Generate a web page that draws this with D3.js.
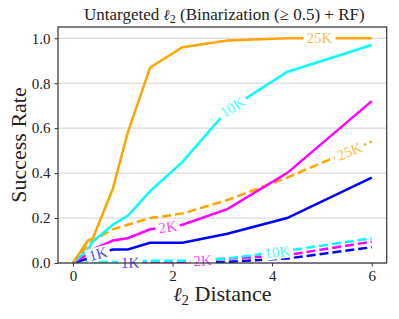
<!DOCTYPE html>
<meta charset="utf-8" />
<style>
    body { margin: 0; background: #fff; }
    text { font-family: "DejaVu Serif", "Liberation Serif", serif; fill: #222; }
</style>
<body></body>
<script src="https://d3js.org/d3.v7.min.js"></script>
<script>

    // l2 distance at each measured point
    var dist = [0, 0.3, 0.4, 0.8, 1.1, 1.55, 2.2, 3.1, 4.3, 6.0];

    // success rate per query budget (solid = one attack, dashed = the other)
    var solid25K  = [0, 0.10, 0.11, 0.33, 0.58, 0.87, 0.96, 0.99, 1.0, 1.0];
    var solid10K  = [0, 0.06, 0.095, 0.17, 0.21, 0.32, 0.45, 0.68, 0.85, 0.97];
    var solid2K   = [0, 0.04, 0.06, 0.10, 0.11, 0.15, 0.17, 0.24, 0.40, 0.72];
    var solid1K   = [0, 0.02, 0.035, 0.06, 0.06, 0.09, 0.09, 0.13, 0.20, 0.38];
    var dashed25K = [0, 0.08, 0.10, 0.15, 0.17, 0.20, 0.22, 0.28, 0.38, 0.54];
    var dashed10K = [0, 0.005, 0.005, 0.005, 0.005, 0.01, 0.01, 0.02, 0.055, 0.11];
    var dashed2K  = [0, 0.003, 0.003, 0.003, 0.003, 0.005, 0.005, 0.02, 0.035, 0.095];
    var dashed1K  = [0, 0.002, 0.002, 0.002, 0.002, 0.003, 0.003, 0.005, 0.02, 0.07];

    var xTicks = [0, 2, 4, 6];
    var yTicks = [0, 0.2, 0.4, 0.6, 0.8, 1.0];

    var series = [
        {name: "25K", vals: solid25K,  color: "#ffa500", dash: null, labelAt: 4.95},
        {name: "10K", vals: solid10K,  color: "#00ffff", dash: null, labelAt: 3.2},
        {name: "2K",  vals: solid2K,   color: "#ff00ff", dash: null, labelAt: 1.9},
        {name: "1K",  vals: solid1K,   color: "#0000ff", dash: null, labelAt: 0.5},
        {name: "25K", vals: dashed25K, color: "#ffa500", dash: "9,4", labelAt: 5.55},
        {name: "10K", vals: dashed10K, color: "#00ffff", dash: "9,4", labelAt: 4.1},
        {name: "2K",  vals: dashed2K,  color: "#ff00ff", dash: "9,4", labelAt: 2.6},
        {name: "1K",  vals: dashed1K,  color: "#0000ff", dash: "9,4", labelAt: 1.15}
    ];

    var svgWidth = 399, svgHeight = 319;
    var margin = {top: 27, right: 12.3, bottom: 56, left: 58};
    var width = svgWidth - margin.left - margin.right;
    var height = svgHeight - margin.top - margin.bottom;

    var svg = d3.select("body").append("svg")
        .attr("width", svgWidth)
        .attr("height", svgHeight);

    var x = d3.scaleLinear().domain([-0.3, 6.3]).range([0, width]);
    var y = d3.scaleLinear().domain([0, 1.05]).range([height, 0]);

    var g = svg.append("g")
        .attr("transform", "translate(" + margin.left + "," + margin.top + ")");

    // grid lines
    g.selectAll(".grid").data(yTicks).enter().append("line")
        .attr("x1", 0).attr("x2", width)
        .attr("y1", function (d) { return y(d); })
        .attr("y2", function (d) { return y(d); })
        .attr("stroke", "#d0d0d0").attr("stroke-width", 1);

    var line = d3.line()
        .x(function (d, i) { return x(dist[i]); })
        .y(function (d) { return y(d); });

    svg.append("defs").append("clipPath").attr("id", "clip")
        .append("rect").attr("width", width).attr("height", height + 2).attr("y", -2);

    var lines = g.append("g").attr("clip-path", "url(#clip)");

    // draw dashed first, solid on top like the reference
    series.slice().reverse().forEach(function (s) {
        lines.append("path")
            .attr("d", line(s.vals))
            .attr("fill", "none")
            .attr("stroke", s.color)
            .attr("stroke-width", 2.5)
            .attr("stroke-dasharray", s.dash);
    });

    // inline labels along each line
    function interp(vals, xv) {
        for (var i = 0; i < dist.length - 1; i++) {
            if (xv >= dist[i] && xv <= dist[i + 1]) {
                var t = (xv - dist[i]) / (dist[i + 1] - dist[i]);
                return {v: vals[i] + t * (vals[i + 1] - vals[i]), i: i};
            }
        }
        return {v: vals[vals.length - 1], i: dist.length - 2};
    }

    series.forEach(function (s) {
        var p = interp(s.vals, s.labelAt);
        var px = x(s.labelAt), py = y(p.v);
        var dx = x(dist[p.i + 1]) - x(dist[p.i]);
        var dy = y(s.vals[p.i + 1]) - y(s.vals[p.i]);
        var ang = Math.atan2(dy, dx) * 180 / Math.PI;
        var lg = g.append("g")
            .attr("transform", "translate(" + px + "," + py + ") rotate(" + ang + ")");
        var t = lg.append("text")
            .attr("text-anchor", "middle")
            .attr("dy", "0.35em")
            .style("font-size", "15px")
            .style("font-family", "'Liberation Serif', serif")
            .style("fill", s.color)
            .style("fill-opacity", 0.75)
            .text(s.name);
        var bb = t.node().getBBox();
        lg.insert("rect", "text")
            .attr("x", bb.x - 3).attr("y", bb.y + 1)
            .attr("width", bb.width + 6).attr("height", bb.height - 2)
            .attr("fill", "#fff");
    });

    // axes
    var xAxis = g.append("g")
        .attr("transform", "translate(0," + height + ")")
        .call(d3.axisBottom(x).tickValues(xTicks).tickFormat(d3.format("d")).tickSize(3.5).tickPadding(4));
    var yAxis = g.append("g")
        .call(d3.axisLeft(y).tickValues(yTicks).tickFormat(d3.format(".1f")).tickSize(3.5).tickPadding(4));

    [xAxis, yAxis].forEach(function (a) {
        a.select(".domain").remove();
        a.selectAll("line").attr("stroke", "#333");
        a.selectAll("text")
            .style("font-family", "'Liberation Serif', serif")
            .style("font-size", "15px")
            .attr("fill", "#222");
    });

    // frame
    g.append("rect")
        .attr("width", width).attr("height", height)
        .attr("fill", "none").attr("stroke", "#333").attr("stroke-width", 1.2);

    // title
    var title = svg.append("text")
        .attr("x", margin.left + width / 2 + 2)
        .attr("y", 20)
        .attr("text-anchor", "middle")
        .style("font-family", "'Liberation Serif', serif")
        .style("font-size", "17px");
    title.append("tspan").text("Untargeted ");
    title.append("tspan").style("font-family", "'DejaVu Serif', serif").style("font-style", "italic").style("font-size", "15px").text("ℓ");
    title.append("tspan").attr("dy", 3).style("font-size", "12px").text("2");
    title.append("tspan").attr("dy", -3).text(" (Binarization (≥ 0.5) + RF)");

    // axis labels
    var xl = svg.append("text")
        .attr("x", margin.left + width / 2)
        .attr("y", 301)
        .attr("text-anchor", "middle")
        .style("font-family", "'Liberation Serif', serif")
        .style("font-size", "22px");
    xl.append("tspan").style("font-family", "'DejaVu Serif', serif").style("font-style", "italic").style("font-size", "20px").text("ℓ");
    xl.append("tspan").attr("dy", 4).style("font-size", "15px").text("2");
    xl.append("tspan").attr("dy", -4).text(" Distance");

    svg.append("text")
        .attr("transform", "translate(26," + (margin.top + height / 2) + ") rotate(-90)")
        .attr("text-anchor", "middle")
        .style("font-family", "'Liberation Serif', serif")
        .style("font-size", "22px")
        .text("Success Rate");

</script>
